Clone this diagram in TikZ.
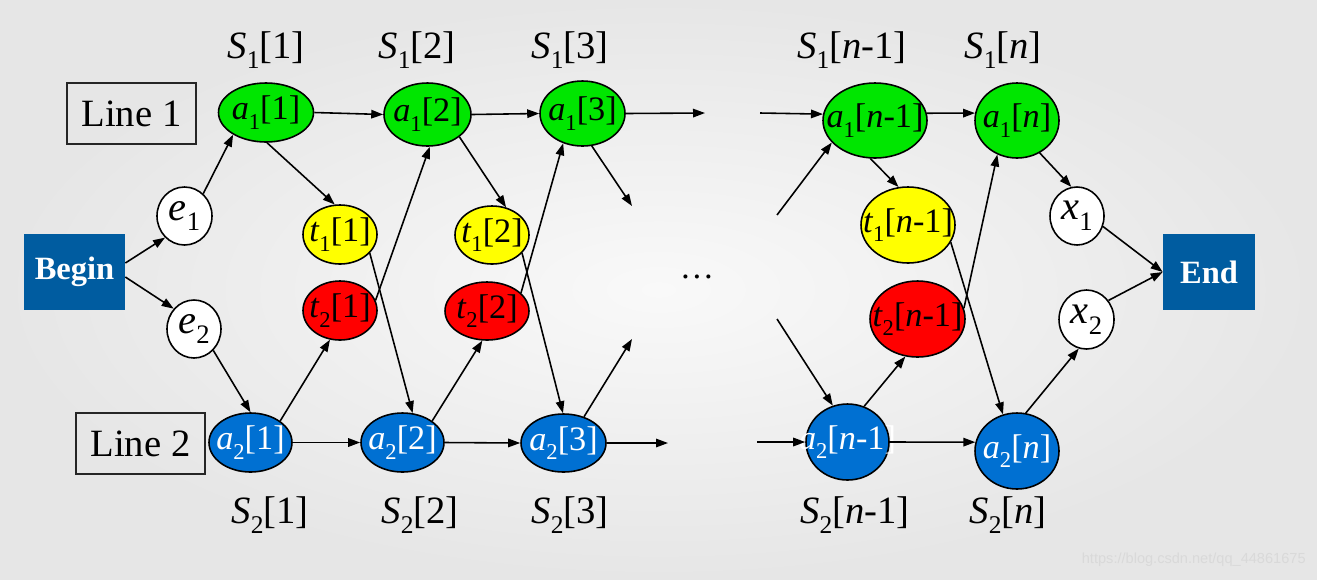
\documentclass[tikz,border=0pt]{standalone}
\usepackage{fontspec}
\setmainfont{Liberation Serif}
\newfontfamily\wmfont{Liberation Sans}
\usetikzlibrary{shapes.geometric,arrows.meta}
\definecolor{bgin}{RGB}{249,249,249}
\definecolor{bgout}{RGB}{230,230,230}
\definecolor{gr}{RGB}{0,230,0}
\definecolor{yl}{RGB}{255,255,0}
\definecolor{rd}{RGB}{255,0,0}
\definecolor{bl}{RGB}{0,112,210}
\definecolor{bx}{RGB}{0,92,160}
\makeatletter
\newcommand\sbx[1]{\raisebox{-0.27em}{\fontsize{\strip@pt\dimexpr0.66\dimexpr\f@size pt\relax\relax}{1}\selectfont #1}}
\makeatother
\newcommand\ntx[1]{\makebox[0pt]{#1}}
\tikzset{
  nd/.style 2 args={ellipse, draw=black, line width=0.9pt, inner sep=0pt,
    minimum width=#1*0.02cm, minimum height=#2*0.02cm},
  intext/.style={font=\fontsize{19.5}{23}\selectfont},
  extext/.style={font=\fontsize{23}{27}\selectfont},
  slab/.style={font=\fontsize{22}{26}\selectfont, inner sep=0pt},
  conn/.style={line width=0.9pt, -{Triangle[length=0.24cm,width=0.17cm]}},
  linebox/.style={draw=black!85, line width=1pt, inner sep=0pt,
    minimum width=129*0.02cm, minimum height=61*0.02cm, font=\fontsize{22}{26}\selectfont},
  termbox/.style={fill=bx, text=white, inner sep=0pt, font=\fontsize{18.5}{22}\selectfont\bfseries},
}
\begin{document}
\begin{tikzpicture}[x=0.02cm,y=-0.02cm]
\useasboundingbox (0,0) rectangle (1317,579);
\shade[inner color=bgin, outer color=bgout] (0,0) rectangle (1317,579);

% boxes
\node[linebox] (line1) at (131.5,113.5) {Line 1};
\node[linebox] (line2) at (140.5,443.5) {Line 2};
\node[termbox, minimum width=101*0.02cm, minimum height=76*0.02cm] (begin) at (74.5,272) {Begin};
\node[termbox, minimum width=92*0.02cm, minimum height=76*0.02cm] (end) at (1209,272) {End};

% station labels
\node[slab] (s11) at (266,50) {\textit{S}\sbx{1}[1]};
\node[slab] (s12) at (417,50) {\textit{S}\sbx{1}[2]};
\node[slab] (s13) at (570,50) {\textit{S}\sbx{1}[3]};
\node[slab] (s1n1) at (852,50) {\textit{S}\sbx{1}[\textit{n}-1]};
\node[slab] (s1n) at (1003,50) {\textit{S}\sbx{1}[\textit{n}]};
\node[slab] (s21) at (270,515) {\textit{S}\sbx{2}[1]};
\node[slab] (s22) at (420,515) {\textit{S}\sbx{2}[2]};
\node[slab] (s23) at (570,515) {\textit{S}\sbx{2}[3]};
\node[slab] (s2n1) at (855,515) {\textit{S}\sbx{2}[\textit{n}-1]};
\node[slab] (s2n) at (1008,515) {\textit{S}\sbx{2}[\textit{n}]};

% entry / exit nodes
\node[nd={55}{58}, fill=white, extext] (e1) at (184.5,216) {\ntx{\textit{e}\sbx{1}}};
\node[nd={54}{58}, fill=white, extext] (e2) at (194,329) {\ntx{\textit{e}\sbx{2}}};
\node[nd={54}{58}, fill=white, extext] (x1) at (1077,216) {\ntx{\textit{x}\sbx{1}}};
\node[nd={55}{59}, fill=white, extext] (x2) at (1086.5,319.5) {\ntx{\textit{x}\sbx{2}}};

% line 1
\node[nd={95}{59}, fill=gr, intext] (a11) at (266,112.5) {\ntx{\textit{a}\sbx{1}[1]}};
\node[nd={87}{63}, fill=gr, intext] (a12) at (427.5,114.5) {\ntx{\textit{a}\sbx{1}[2]}};
\node[nd={85}{65}, fill=gr, intext] (a13) at (582.5,113.5) {\ntx{\textit{a}\sbx{1}[3]}};
\node[nd={104}{75}, fill=gr, intext] (a1n1) at (875,120.5) {\ntx{\textit{a}\sbx{1}[\textit{n}-1]}};
\node[nd={84}{75}, fill=gr, intext] (a1n) at (1017,120.5) {\ntx{\textit{a}\sbx{1}[\textit{n}]}};

% transfers
\node[nd={74}{59}, fill=yl, intext] (t11) at (340,234.5) {\ntx{\textit{t}\sbx{1}[1]}};
\node[nd={74}{59}, fill=rd, intext] (t21) at (340,310.5) {\ntx{\textit{t}\sbx{2}[1]}};
\node[nd={74}{58}, fill=yl, intext] (t12) at (492,235) {\ntx{\textit{t}\sbx{1}[2]}};
\node[nd={84}{58}, fill=rd, intext] (t22) at (487,311) {\ntx{\textit{t}\sbx{2}[2]}};
\node[nd={94}{76}, fill=yl, intext] (t1n1) at (908,225) {\ntx{\textit{t}\sbx{1}[\textit{n}-1]}};
\node[nd={95}{76}, fill=rd, intext] (t2n1) at (917.5,319) {\ntx{\textit{t}\sbx{2}[\textit{n}-1]}};

% line 2
\node[nd={83}{59}, fill=bl, text=white, intext] (a21) at (250.5,442.5) {\ntx{\textit{a}\sbx{2}[1]}};
\node[nd={83}{59}, fill=bl, text=white, intext] (a22) at (402.5,442.5) {\ntx{\textit{a}\sbx{2}[2]}};
\node[nd={85}{58}, fill=bl, text=white, intext] (a23) at (563.5,443) {\ntx{\textit{a}\sbx{2}[3]}};
\node[nd={83}{76}, fill=bl, text=white, intext] (a2n1) at (847.5,442) {\ntx{\textit{a}\sbx{2}[\textit{n}-1]}};
\node[nd={84}{76}, fill=bl, text=white, intext] (a2n) at (1017,451) {\ntx{\textit{a}\sbx{2}[\textit{n}]}};

\node[intext] (dots) at (697,277) {\ldots};

% free ends
\coordinate (f13r) at (705,113);
\coordinate (f13d) at (632,206);
\coordinate (f23r) at (668,443);
\coordinate (f23u) at (632,339);
\coordinate (g1l) at (760,113);
\coordinate (g1d) at (777,215);
\coordinate (g2l) at (757,442);
\coordinate (g2u) at (777,319);

% connectors
\draw[conn] ([yshift=0.18cm]begin.east) -- (e1.228);
\draw[conn] ([yshift=-0.1cm]begin.east) -- (e2.135);
\draw[conn] (e1.50) -- (a11.214);
\draw[conn] (e2.-48) -- (a21.north);
\draw[conn] (a11.east) -- (a12.west);
\draw[conn] (a11.-88) -- (t11.100);
\draw[conn] (t21.16) -- (a12.-86);
\draw[conn] (t11.-32) -- (a22.71);
\draw[conn] (a21.36) -- (t21.-109);
\draw[conn] (a21.east) -- (a22.west);
\draw[conn] (a12.east) -- (a13.west);
\draw[conn] (a12.-35) -- (t12.63);
\draw[conn] (t22.28) -- (a13.-123);
\draw[conn] (t12.-31) -- (a23.91);
\draw[conn] (a22.36) -- (t22.-99);
\draw[conn] (a22.east) -- (a23.west);
\draw[conn] (a13.east) -- (f13r);
\draw[conn] (a13.-74) -- (f13d);
\draw[conn] (a23.east) -- (f23r);
\draw[conn] (a23.52) -- (f23u);
\draw[conn] (g1l) -- (a1n1.173);
\draw[conn] (g1d) -- (a1n1.207);
\draw[conn] (a1n1.8) -- (a1n.170);
\draw[conn] (a1n1.-97) -- (t1n1.104);
\draw[conn] (t2n1.13) -- (a1n.-120);
\draw[conn] (t1n1.-22) -- (a2n.111);
\draw[conn] (a1n.-55) -- (x1.101);
\draw[conn] (x1.-22) -- (end.west);
\draw[conn] (x2.41) -- (end.west);
\draw[conn] (g2l) -- (a2n1.west);
\draw[conn] (g2u) -- (a2n1.112);
\draw[conn] (a2n1.65) -- (t2n1.-108);
\draw[conn] (a2n1.east) -- (a2n.168);
\draw[conn] (a2n.77) -- (x2.-105);

% watermark
\node[text=gray!30, font=\wmfont\fontsize{8.3}{10}\selectfont, anchor=east, inner sep=0pt] (wm) at (1306,560) {https://blog.csdn.net/qq\_44861675};
\end{tikzpicture}
\end{document}
